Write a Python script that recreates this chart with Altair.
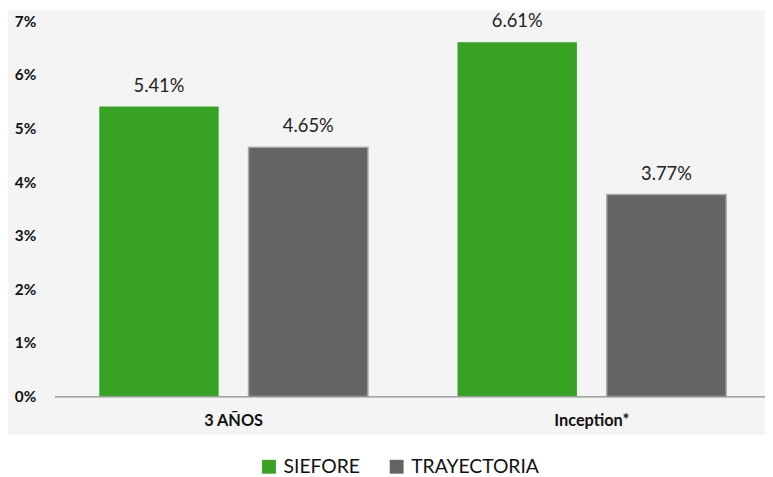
import altair as alt
import pandas as pd

categories = ["3 AÑOS", "Inception*"]
series = ["SIEFORE", "TRAYECTORIA"]
siefore = [5.41, 6.61]
trayectoria = [4.65, 3.77]
colors = ["#37a224", "#646464"]
y_ticks = [0, 1, 2, 3, 4, 5, 6, 7]

rows = []
for i, c in enumerate(categories):
    rows.append({"cat": c, "serie": series[0], "value": siefore[i]})
    rows.append({"cat": c, "serie": series[1], "value": trayectoria[i]})
df = pd.DataFrame(rows)

W, H = 724, 379
FONT = "Lato"

bg = alt.Chart(pd.DataFrame({"a": [0]})).mark_rect(color="#f4f4f4").encode(
    x=alt.value(-47), x2=alt.value(W + 10), y=alt.value(-11), y2=alt.value(418)
)

x = alt.X("cat:N", sort=categories, title=None,
          scale=alt.Scale(paddingInner=0, paddingOuter=0),
          axis=alt.Axis(labelAngle=0, labelFont=FONT, labelFontSize=16.5, labelFontWeight="bold",
                        labelColor="#111", domainColor="#8c8c8c", domainWidth=1.5, ticks=False,
                        labelPadding=16, zindex=1))
xo = alt.XOffset("serie:N", sort=series, scale=alt.Scale(paddingInner=0.2, paddingOuter=0.3))
y = alt.Y("value:Q", title=None,
          scale=alt.Scale(domain=[0, 7], nice=False),
          axis=alt.Axis(values=y_ticks, labelExpr="datum.value + '%'", grid=False, domain=False,
                        ticks=False, labelFont=FONT, labelFontSize=15.5, labelFontWeight="bold",
                        labelColor="#111", labelPadding=19, zindex=1))

color = alt.Color("serie:N", sort=series, scale=alt.Scale(domain=series, range=colors),
                  legend=alt.Legend(title=None, orient="none", legendX=207, legendY=440,
                                    direction="horizontal", symbolType="square", symbolSize=196,
                                    symbolStrokeWidth=0, labelFont=FONT, labelFontSize=19.5,
                                    labelColor="#111", columnPadding=27, labelOffset=5))

bars = alt.Chart(df).mark_bar(stroke="#a8a8a8", strokeWidth=1.5).encode(
    x=x, xOffset=xo, y=y, color=color,
    strokeOpacity=alt.condition(alt.datum.serie == "TRAYECTORIA", alt.value(1), alt.value(0)),
)

text = alt.Chart(df).transform_calculate(
    label="format(datum.value, '.2f') + '%'"
).mark_text(baseline="bottom", dy=-11, font=FONT, fontSize=18.5, color="#222").encode(
    x=x, xOffset=xo, y=y, text="label:N"
)

chart = alt.layer(bg, bars, text).properties(
    width=W, height=H, background="white",
    padding={"left": 47, "top": 11, "right": -6, "bottom": 79},
    autosize=alt.AutoSizeParams(type="none"),
).configure_view(stroke=None)

chart.save("out.html", embed_options={"renderer": "svg", "actions": False})
